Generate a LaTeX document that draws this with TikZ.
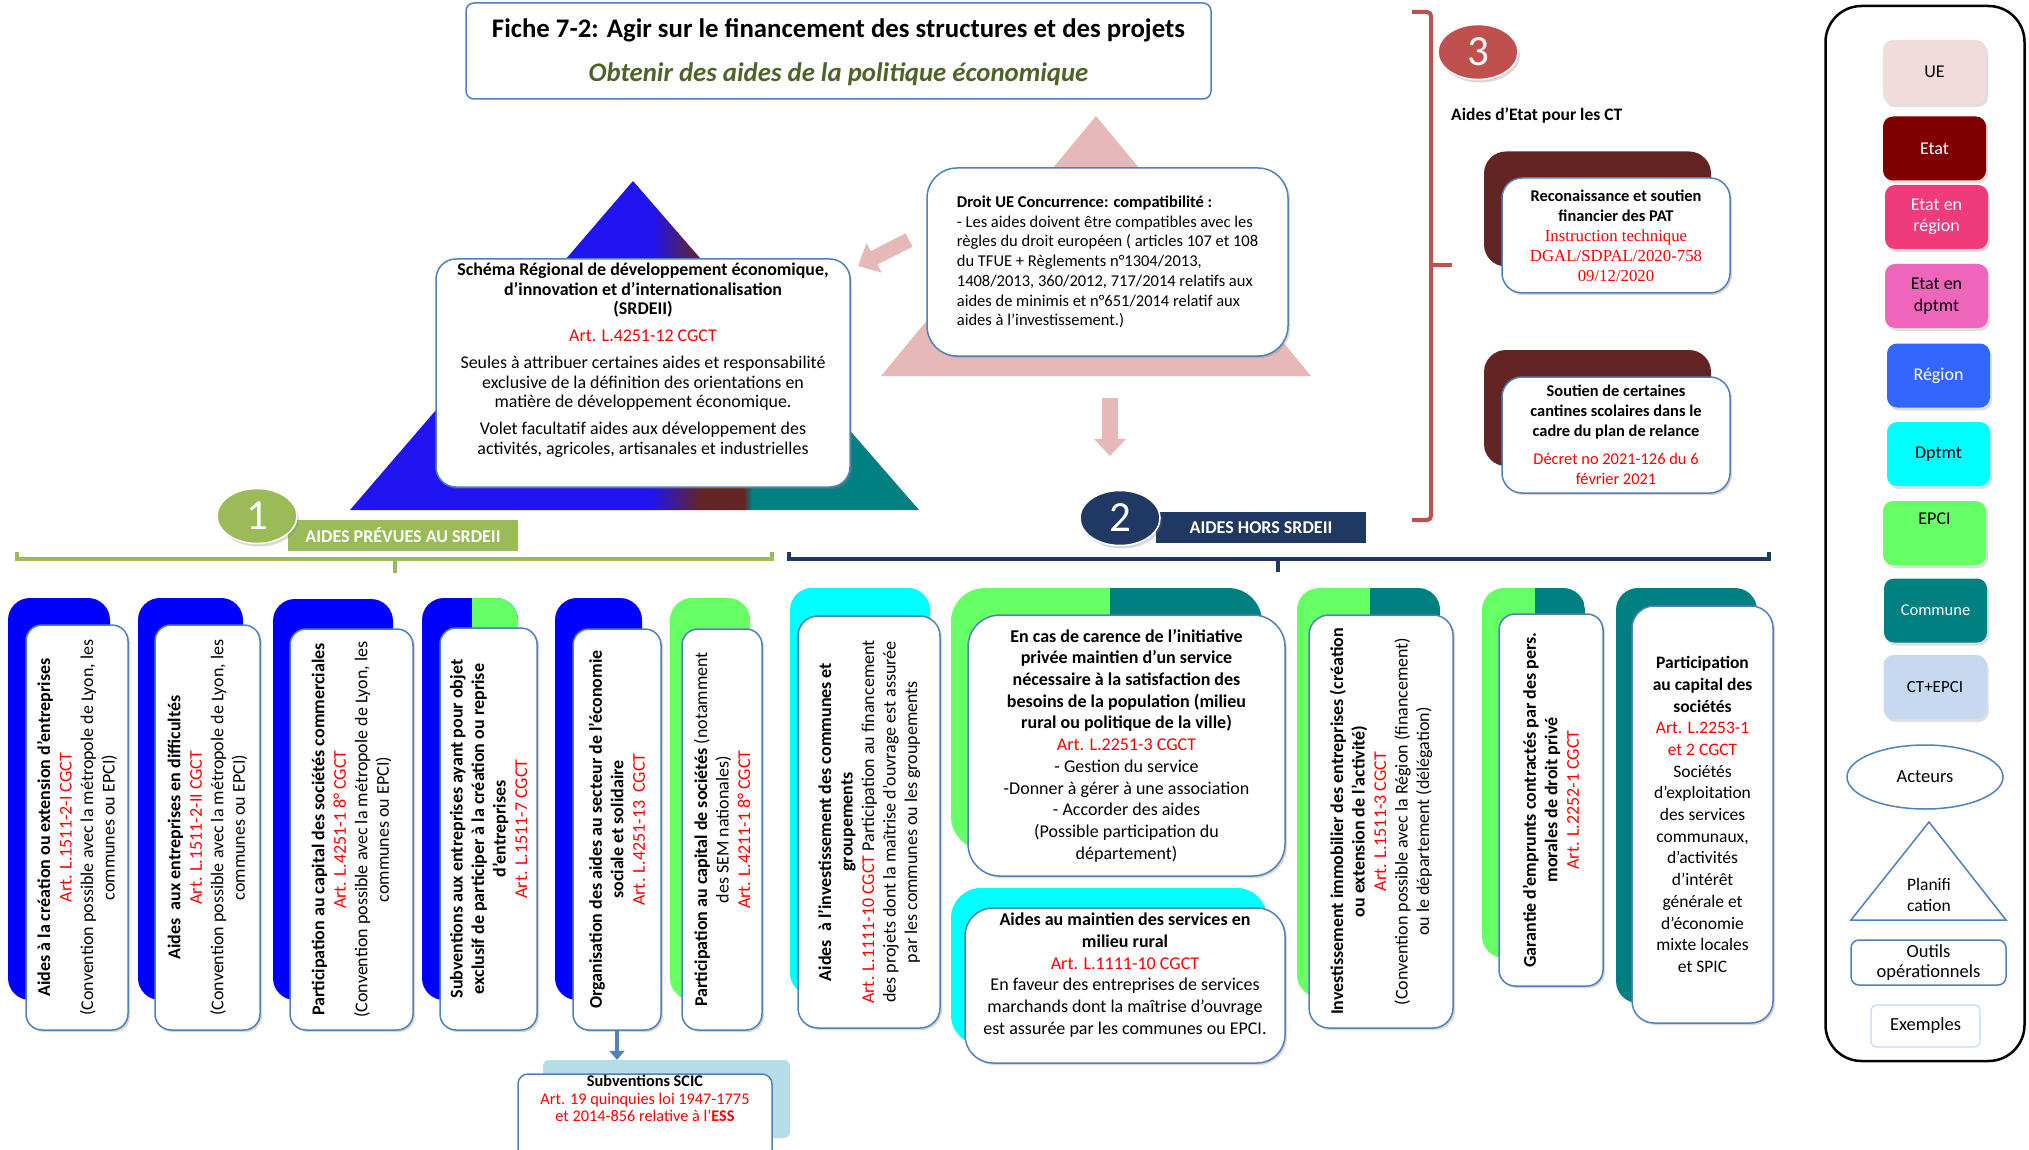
\documentclass[tikz,border=0pt]{standalone}
\usepackage{fontspec}
\setmainfont{Carlito}
\newfontfamily\tnrfont{Liberation Serif}
\usetikzlibrary{shapes.geometric,arrows.meta,shadows}
\definecolor{cblue}{HTML}{0000FF}
\definecolor{tblue}{HTML}{2014F0}
\definecolor{cgreen}{HTML}{66FF66}
\definecolor{cteal}{HTML}{008080}
\definecolor{ccyan}{HTML}{00FFFF}
\definecolor{cmaroon}{HTML}{632523}
\definecolor{bordb}{HTML}{4F81BD}
\definecolor{cpink}{HTML}{E6B9B8}
\definecolor{olivet}{HTML}{4F6228}
\definecolor{gone}{HTML}{9BBB59}
\definecolor{navyb}{HTML}{1F3864}
\definecolor{redthree}{HTML}{C0504D}
\definecolor{ueleg}{HTML}{F2DCDB}
\definecolor{etatleg}{HTML}{800000}
\definecolor{etatreg}{HTML}{EF3B7A}
\definecolor{etatdep}{HTML}{EE66BB}
\definecolor{regleg}{HTML}{3366FF}
\definecolor{ctepci}{HTML}{C6D9F1}
\definecolor{scicb}{HTML}{B7DEE8}
\definecolor{artred}{HTML}{FF0000}
\newcommand\artr[1]{\textcolor{artred}{#1}}
\pgfdeclarehorizontalshading{srdshade}{100bp}{color(0bp)=(tblue); color(51.5bp)=(tblue); color(55.8bp)=(cmaroon); color(59.6bp)=(cmaroon); color(60.3bp)=(cteal); color(100bp)=(cteal)}
\begin{document}
\begin{tikzpicture}[x=1pt,y=-1pt,
  frontbox/.style={draw=bordb, line width=1.5pt, fill=white, rounded corners=16pt, inner sep=0pt, align=center, drop shadow={opacity=0.3,shadow xshift=2pt,shadow yshift=-2pt}},
  backbox/.style={rounded corners=22pt, inner sep=0pt},
  twotone/.style 2 args={path picture={\fill[#2, sharp corners] ([xshift=#1]path picture bounding box.north west) rectangle (path picture bounding box.south east);}},
  colfont/.style={font=\fontsize{18}{21.5}\selectfont},
  legbox/.style={rounded corners=10pt, inner sep=0pt, minimum width=103pt, minimum height=64pt, align=center, font=\fontsize{18}{21.5}\selectfont, drop shadow={opacity=0.25,shadow xshift=2pt,shadow yshift=-3pt}},
  numcirc/.style={ellipse, draw=white, line width=1.5pt, minimum width=80pt, minimum height=55pt, inner sep=0pt, text=white, font=\fontsize{43}{43}\selectfont, drop shadow={opacity=0.3,shadow xshift=2pt,shadow yshift=-3pt}},
  banner/.style={inner sep=0pt, text=white, font=\bfseries\fontsize{18}{18}\selectfont, minimum height=31pt},
  pinkarrow/.style={cpink, line width=15pt, -{Triangle[width=32pt,length=18pt]}},
  s3front/.style={frontbox, rounded corners=20pt, minimum width=228pt, minimum height=115pt, font=\fontsize{16.4}{20}\selectfont},
  s3back/.style={backbox, fill=cmaroon, minimum width=227pt, minimum height=115pt}
]
\useasboundingbox (0,0) rectangle (2029,1150);
\fill[white] (0,0) rectangle (2029,1150);

% ---------- title
\node[draw=bordb, line width=1.5pt, rounded corners=8pt, fill=white, minimum width=745pt, minimum height=96pt] (title) at (838.5,51) {};
\node[font=\bfseries\fontsize{26.8}{30}\selectfont] (titlet) at (838.5,30) {Fiche 7-2: Agir sur le financement des structures et des projets};
\node[font=\bfseries\itshape\fontsize{26.8}{30}\selectfont, text=olivet] (subt) at (838.5,74) {Obtenir des aides de la politique économique};

% ---------- triangles
\shade[shading=srdshade] (633,181) -- (919,510) -- (350,510) -- cycle;
\fill[cpink] (1096,116) -- (1311,376) -- (881,376) -- cycle;

% ---------- SRDEII box
\node[frontbox, rounded corners=20pt, minimum width=414pt, minimum height=228pt] (srd) at (643,373) {};
\node[anchor=north, inner sep=0pt, align=center, font=\fontsize{17.9}{19.5}\selectfont] (srdt) at (643,263) {\textbf{Schéma Régional de développement économique,}\\\textbf{d’innovation et d’internationalisation}\\\textbf{(SRDEII)}\\[7.5pt]\artr{Art. L.4251-12 CGCT}\\[7.5pt]Seules à attribuer certaines aides et responsabilité\\exclusive de la définition des orientations en\\matière de développement économique.\\[7.5pt]Volet facultatif aides aux développement des\\activités, agricoles, artisanales et industrielles};

% ---------- Droit UE box
\node[frontbox, rounded corners=30pt, minimum width=361pt, minimum height=188pt, align=left, font=\fontsize{16.5}{19.7}\selectfont] (droit) at (1107.5,262) {\textbf{Droit UE Concurrence: compatibilité :}\\- Les aides doivent être compatibles avec les\\règles du droit européen ( articles 107 et 108\\du TFUE + Règlements n°1304/2013,\\1408/2013, 360/2012, 717/2014 relatifs aux\\aides de minimis et n°651/2014 relatif aux\\aides à l’investissement.)};

\coordinate (pa1) at (909,240);
\coordinate (pa2) at (858,266);
\draw[pinkarrow] (pa1) -- (pa2);
\coordinate (pb1) at (1110,398);
\coordinate (pb2) at (1110,456);
\draw[pinkarrow, line width=16pt, -{Triangle[width=31pt,length=17pt]}] (pb1) -- (pb2);

% ---------- section 1 header
\node[banner, fill=gone, minimum width=230pt] (b1) at (403,535.5) {AIDES PRÉVUES AU SRDEII};
\node[numcirc, fill=gone] (n1) at (257,516) {1};
\draw[gone, line width=4pt] (17,552) -- (17,559) -- (772,559) -- (772,552);
\draw[gone, line width=4pt] (395,559) -- (395,573);

% ---------- section 2 header
\node[banner, fill=navyb, minimum width=210pt] (b2) at (1261,527.5) {AIDES HORS SRDEII};
\node[numcirc, fill=navyb] (n2) at (1120,518) {2};
\draw[navyb, line width=4pt] (789,552) -- (789,559) -- (1769,559) -- (1769,552);
\draw[navyb, line width=4pt] (1278,559) -- (1278,572);

% ---------- section 3
\node[numcirc, fill=redthree] (n3) at (1478,52) {3};
\draw[redthree, line width=4pt, rounded corners=4pt] (1412,12) -- (1431,12) -- (1431,520) -- (1412,520);
\draw[redthree, line width=4pt] (1431,265) -- (1452,265);
\node[anchor=west, inner sep=0pt, font=\bfseries\fontsize{17.5}{20}\selectfont] (aet) at (1451,116) {Aides d’Etat pour les CT};
\node[s3back] (patb) at (1597.5,209) {};
\node[s3front] (pat) at (1616,235.5) {\textbf{Reconaissance et soutien}\\\textbf{financier des PAT}\\{\tnrfont\fontsize{16.8}{20}\selectfont\artr{Instruction technique}}\\{\tnrfont\fontsize{16.8}{20}\selectfont\artr{DGAL/SDPAL/2020-758}}\\{\tnrfont\fontsize{16.8}{20}\selectfont\artr{09/12/2020}}};
\node[s3back, minimum height=116pt] (canb) at (1597.5,408) {};
\node[s3front, minimum height=116pt] (can) at (1616,435) {\textbf{Soutien de certaines}\\\textbf{cantines scolaires dans le}\\\textbf{cadre du plan de relance}\\[8pt]\artr{Décret no 2021-126 du 6}\\\artr{février 2021}};

% ---------- section 1 columns
\node[backbox, fill=cblue, minimum width=102pt, minimum height=402pt] (c1b) at (59,799) {};
\node[frontbox, colfont, rotate=90, minimum width=405pt, minimum height=102pt] (c1f) at (77,827.5) {\textbf{Aides à la création ou extension d’entreprises}\\\artr{Art. L.1511-2-I CGCT}\\(Convention possible avec la métropole de Lyon, les\\communes ou EPCI)};

\node[backbox, fill=cblue, minimum width=105pt, minimum height=402pt] (c2b) at (190.5,799) {};
\node[frontbox, colfont, rotate=90, minimum width=405pt, minimum height=105pt] (c2f) at (207.5,827.5) {\textbf{Aides\ \ aux entreprises en difficultés}\\\artr{Art. L.1511-2-II CGCT}\\(Convention possible avec la métropole de Lyon, les\\communes ou EPCI)};

\node[backbox, fill=cblue, minimum width=120pt, minimum height=401pt] (c3b) at (333,799.5) {};
\node[frontbox, colfont, rotate=90, minimum width=401pt, minimum height=123pt] (c3f) at (351.5,829.5) {\textbf{Participation au capital des sociétés commerciales}\\\artr{Art. L.4251-1 8° CGCT}\\(Convention possible avec la métropole de Lyon, les\\communes ou EPCI)};

\node[backbox, fill=cblue, minimum width=96pt, minimum height=402pt, twotone={50pt}{cgreen}] (c4b) at (470,799) {};
\node[frontbox, colfont, rotate=90, minimum width=402pt, minimum height=97pt] (c4f) at (488.5,829) {\textbf{Subventions aux entreprises ayant pour objet}\\\textbf{exclusif de participer à la création ou reprise}\\\textbf{d’entreprises}\\\artr{Art. L.1511-7 CGCT}};

\node[backbox, fill=cblue, minimum width=87pt, minimum height=402pt] (c5b) at (598.5,799) {};
\node[frontbox, colfont, rotate=90, minimum width=401pt, minimum height=88pt] (c5f) at (617,829.5) {\textbf{Organisation des aides au secteur de l’économie}\\\textbf{sociale et solidaire}\\\artr{Art. L.4251-13\ \ CGCT}};

\node[backbox, fill=cgreen, minimum width=80pt, minimum height=402pt] (c6b) at (710,799) {};
\node[frontbox, colfont, rotate=90, minimum width=401pt, minimum height=80pt] (c6f) at (722,829.5) {\textbf{Participation au capital de sociétés} (notamment\\des SEM nationales)\\\artr{Art. L.4211-1 8° CGCT}};

% SCIC
\node[rounded corners=6pt, fill=scicb, minimum width=247pt, minimum height=78pt, inner sep=0pt] (scicb) at (666.5,1099) {};
\node[draw=bordb, line width=1.5pt, fill=white, rounded corners=10pt, minimum width=254pt, minimum height=100pt, inner sep=0pt] (scic) at (645,1124) {};
\node[anchor=north, inner sep=0pt, align=center, font=\fontsize{16.3}{17.5}\selectfont] (scict) at (645,1075) {\textbf{Subventions SCIC}\\\artr{Art. 19 quinquies loi 1947-1775}\\\artr{et 2014-856 relative à l’\textbf{ESS}}};
\draw[bordb, line width=4pt, -{Triangle[width=15pt,length=9pt]}] (c5f.west) -- (c5f.west |- scicb.north);

% ---------- section 2 columns
\node[backbox, fill=ccyan, minimum width=140pt, minimum height=407pt] (c7b) at (860,791.5) {};
\node[frontbox, colfont, rotate=90, minimum width=412pt, minimum height=142pt, rounded corners=20pt] (c7f) at (869,822) {\textbf{Aides\ \ à l’investissement des communes et}\\\textbf{groupements}\\\artr{Art. L.1111-10 CGCT} Participation au financement\\des projets dont la maîtrise d’ouvrage est assurée\\par les communes ou les groupements};

\node[backbox, rounded corners=34pt, fill=cgreen, minimum width=311pt, minimum height=262pt, twotone={159pt}{cteal}] (carb) at (1106.5,719) {};
\node[frontbox, rounded corners=32pt, minimum width=317pt, minimum height=261pt, font=\fontsize{18}{21.7}\selectfont] (car) at (1126.5,745.5) {\textbf{En cas de carence de l’initiative}\\\textbf{privée maintien d’un service}\\\textbf{nécessaire à la satisfaction des}\\\textbf{besoins de la population (milieu}\\\textbf{rural ou politique de la ville)}\\\artr{Art. L.2251-3 CGCT}\\- Gestion du service\\-Donner à gérer à une association\\- Accorder des aides\\(Possible participation du\\département)};

\node[backbox, rounded corners=30pt, fill=ccyan, minimum width=316pt, minimum height=157pt] (mainb) at (1109,966.5) {};
\node[frontbox, rounded corners=28pt, minimum width=320pt, minimum height=155pt] (main) at (1125,985.5) {};
\node[inner sep=0pt, align=center, font=\fontsize{18}{21.7}\selectfont] (maint) at (1125,975) {\textbf{Aides au maintien des services en}\\\textbf{milieu rural}\\\artr{Art. L.1111-10 CGCT}\\En faveur des entreprises de services\\marchands dont la maîtrise d’ouvrage\\est assurée par les communes ou EPCI.};

\node[backbox, fill=cgreen, minimum width=143pt, minimum height=409pt, twotone={73pt}{cteal}] (c9b) at (1368.5,792.5) {};
\node[frontbox, colfont, rotate=90, minimum width=413pt, minimum height=144pt, rounded corners=20pt] (c9f) at (1381,821.5) {\textbf{Investissement immobilier des entreprises (création}\\\textbf{ou extension de l’activité)}\\\artr{Art. L.1511-3 CGCT}\\(Convention possible avec la Région (financement)\\ou le département (délégation)};

\node[backbox, fill=cgreen, minimum width=103pt, minimum height=370pt, twotone={53pt}{cteal}] (c10b) at (1533.5,773) {};
\node[frontbox, colfont, rotate=90, minimum width=372pt, minimum height=104pt] (c10f) at (1551,800) {\textbf{Garantie d’emprunts contractés par des pers.}\\\textbf{morales de droit privé}\\\artr{Art. L.2252-1 CGCT}};

\node[backbox, fill=cteal, minimum width=141pt, minimum height=415pt] (c11b) at (1686.5,795.5) {};
\node[frontbox, rounded corners=22pt, minimum width=141pt, minimum height=417pt, font=\fontsize{17.5}{21.7}\selectfont] (c11f) at (1702.5,814.5) {\textbf{Participation}\\\textbf{au capital des}\\\textbf{sociétés}\\\artr{Art. L.2253-1}\\\artr{et 2 CGCT}\\Sociétés\\d’exploitation\\des services\\communaux,\\d’activités\\d’intérêt\\générale et\\d’économie\\mixte locales\\et SPIC};

% ---------- legend
\node[draw=black, line width=2.5pt, rounded corners=36pt, minimum width=199pt, minimum height=1055pt, inner sep=0pt] (leg) at (1925,533.5) {};
\node[legbox, fill=ueleg] (lue) at (1934.5,72) {UE};
\node[legbox, fill=etatleg, text=white] (letat) at (1934.5,148.5) {Etat};
\node[legbox, fill=etatreg, text=white] (letreg) at (1936.5,217) {Etat en\\région};
\node[legbox, fill=etatdep] (letdep) at (1936.5,296) {Etat en\\dptmt};
\node[legbox, fill=regleg, text=white] (lreg) at (1938.5,375.5) {Région};
\node[legbox, fill=ccyan] (ldep) at (1938.5,454) {Dptmt};
\node[legbox, fill=cgreen] (lepci) at (1934.5,533) {};
\node[inner sep=0pt, font=\fontsize{18}{21.5}\selectfont] (lepcit) at (1934.5,519) {EPCI};
\node[legbox, fill=cteal, text=white, font=\fontsize{16.5}{20}\selectfont] (lcom) at (1935.5,610.5) {Commune};
\node[legbox, fill=ctepci, font=\fontsize{17}{20}\selectfont] (lct) at (1935,687) {CT+EPCI};
\node[ellipse, draw=bordb, line width=1.5pt, fill=white, minimum width=156pt, minimum height=64pt, inner sep=0pt, font=\fontsize{18.5}{20}\selectfont] (lact) at (1925,777) {Acteurs};
\draw[bordb, line width=1.5pt, fill=white] (1929,822) -- (2006,920) -- (1851,920) -- cycle;
\node[inner sep=0pt, align=center, font=\fontsize{17.5}{21}\selectfont] (lplan) at (1929,895) {Planifi\\cation};
\node[draw=bordb, line width=1.5pt, rounded corners=8pt, fill=white, minimum width=155pt, minimum height=45pt, inner sep=0pt, align=center, font=\fontsize{18.5}{20.5}\selectfont] (lout) at (1928.5,962.5) {Outils\\opérationnels};
\node[draw=ctepci, line width=1.2pt, rounded corners=6pt, fill=white, minimum width=109pt, minimum height=42pt, inner sep=0pt, font=\fontsize{18.5}{20}\selectfont] (lex) at (1925.5,1026) {Exemples};
\end{tikzpicture}
\end{document}
